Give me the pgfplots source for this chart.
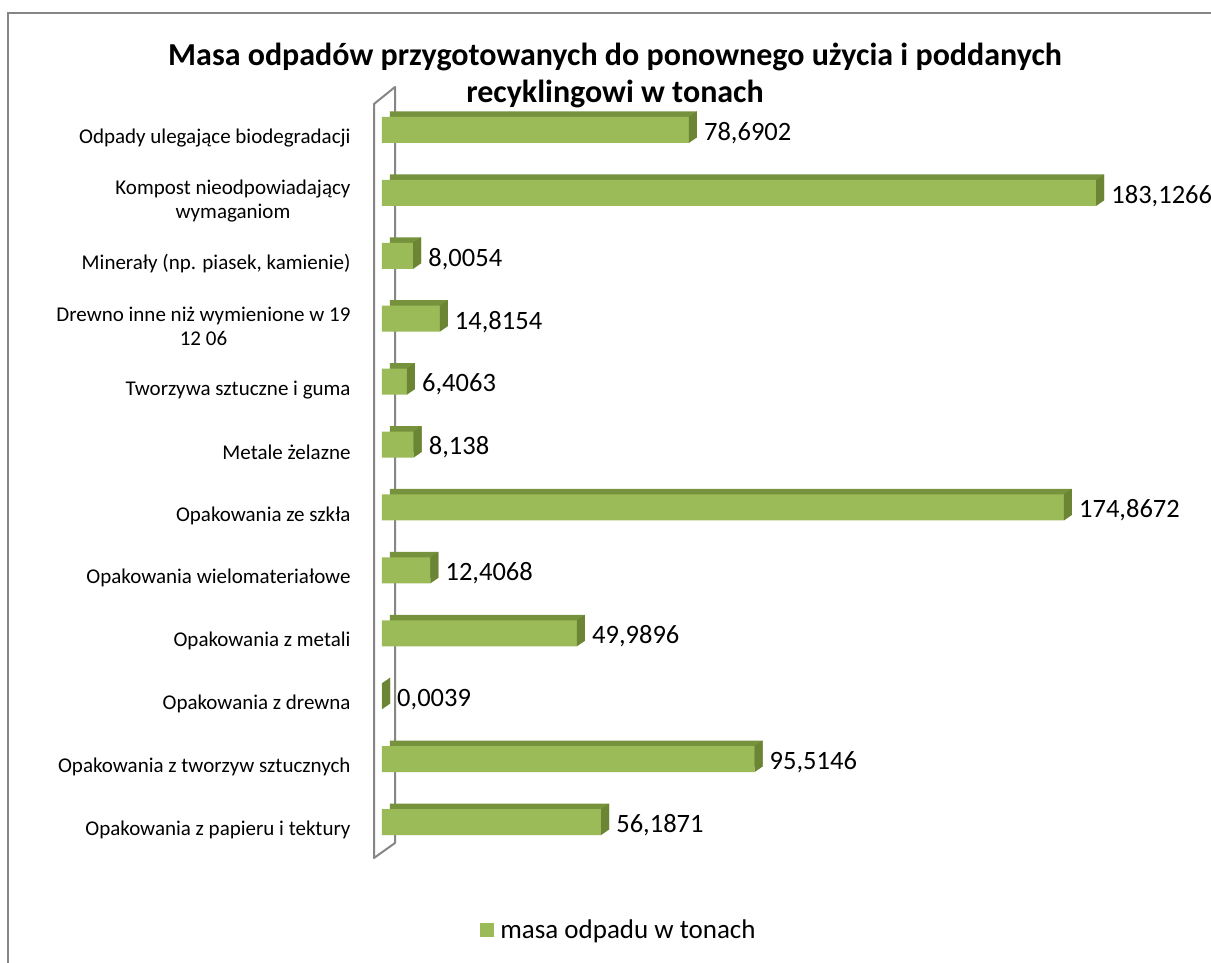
\documentclass[border=0pt]{standalone}
\usepackage{pgfplots}
\pgfplotsset{compat=1.18}
\usepackage{fontspec}
\setmainfont{Carlito}

\definecolor{barfront}{RGB}{155,187,89}
\definecolor{bartop}{RGB}{118,146,60}
\definecolor{barside}{RGB}{107,133,52}
\definecolor{framegray}{RGB}{134,134,134}

% right-hand face of a 3D bar: 8pt deep, 5.5pt up, front face 26pt high
\pgfdeclareplotmark{sideface}{%
  \pgfpathmoveto{\pgfqpoint{0pt}{-13pt}}%
  \pgfpathlineto{\pgfqpoint{8pt}{-7.5pt}}%
  \pgfpathlineto{\pgfqpoint{8pt}{18.5pt}}%
  \pgfpathlineto{\pgfqpoint{0pt}{13pt}}%
  \pgfpathclose\pgfusepathqfill}

\pgfplotstableread{
val y
56.1871 0
95.5146 1
0.0039 2
49.9896 3
12.4068 4
174.8672 5
8.138 6
6.4063 7
14.8154 8
8.0054 9
183.1266 10
78.6902 11
}\wastedata

\begin{document}
\begin{tikzpicture}
\useasboundingbox (0pt,0pt) rectangle (1211pt,963pt);
% outer frame, cut at the right and bottom like the source
\draw[framegray, line width=2pt] (8pt,-20pt) -- (8pt,950pt) -- (1230pt,950pt);
% title
\node[font=\fontsize{32}{37}\selectfont\bfseries, align=center] at (615pt,888pt)
  {Masa odpadów przygotowanych do ponownego użycia i poddanych\\recyklingowi w tonach};
% left wall
\draw[framegray, line width=2pt, line join=round] (374pt,105pt) -- (395pt,120pt) -- (395pt,876pt) -- (374pt,859pt) -- cycle;
\begin{axis}[
    at={(382pt,109.5pt)}, anchor=south west,
    scale only axis, width=780pt, height=755pt,
    xbar, bar width=26pt,
    xmin=0, xmax=200, ymin=-0.5, ymax=11.5,
    clip=false,
    axis line style={draw=none}, tick style={draw=none},
    xtick=\empty,
    ytick={0,...,11},
    yticklabels={
      {Opakowania z papieru i tektury},
      {Opakowania z tworzyw sztucznych},
      {Opakowania z drewna},
      {Opakowania z metali},
      {Opakowania wielomateriałowe},
      {Opakowania ze szkła},
      {Metale żelazne},
      {Tworzywa sztuczne i guma},
      {Drewno inne niż wymienione w 19\\12 06},
      {Minerały (np. piasek, kamienie)},
      {Kompost nieodpowiadający\\wymaganiom},
      {Odpady ulegające biodegradacji}},
    yticklabel style={font=\fontsize{21}{24}\selectfont, align=center, inner sep=0pt,
      xshift=-27pt, yshift=-8pt},
    legend style={at={(0.3038,-0.1013)}, anchor=center, draw=none, fill=none,
      column sep=4pt, font=\fontsize{27}{30}\selectfont},
    legend image code/.code={\fill[barfront] (-4pt,-7pt) rectangle (10pt,7pt);},
]
% top faces: the same bars set back and up
\addplot[xbar, fill=bartop, draw=none, bar shift=5.5pt, xshift=8pt, forget plot]
  table[x=val, y=y] {\wastedata};
% right faces
\addplot[only marks, mark=sideface, mark options={fill=barside, draw=none}, forget plot]
  table[x=val, y=y] {\wastedata};
% front faces
\addplot[xbar, fill=barfront, draw=none, point meta=x,
    nodes near coords={\pgfmathprintnumber[use comma,fixed,precision=4,1000 sep={},assume math mode=true]{\pgfplotspointmeta}},
    every node near coord/.append style={anchor=west, inner sep=0pt, xshift=15pt, yshift=-3pt,
      font=\fontsize{26.5}{30}\selectfont, black}]
  table[x=val, y=y] {\wastedata};
\addlegendentry{masa odpadu w tonach}
\end{axis}
\end{tikzpicture}
\end{document}
